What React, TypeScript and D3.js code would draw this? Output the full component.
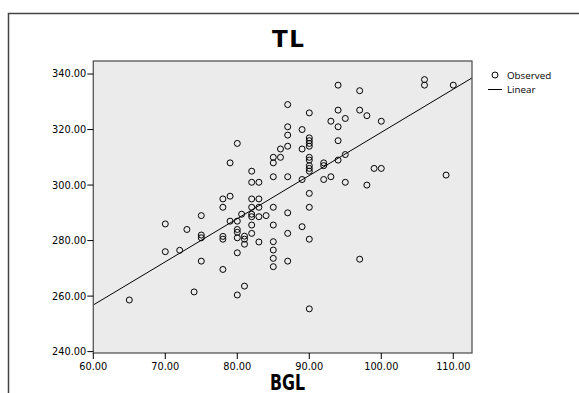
import React from 'react';
import * as d3 from 'd3';

const bgl = [
  94, 97, 106, 106, 110, 87, 90, 94, 97, 98, 93, 94, 95, 100, 87, 87, 89, 80,
  90, 90, 90, 90, 94, 87, 86, 89, 85, 86, 85, 90, 90, 90, 92, 92, 94, 95, 79,
  90, 90, 82, 85, 87, 89, 82, 83, 92, 93, 95, 98, 90, 78, 79, 78, 82, 83, 82,
  83, 85, 87, 90, 80.6, 82, 82, 83, 84, 79, 80, 75, 70, 73, 75, 75, 78, 78,
  70, 72, 75, 78, 74, 65, 80, 80, 80, 81, 81, 81, 82, 82, 83, 85, 85, 85, 85,
  85, 87, 87, 89, 90, 80, 81, 80, 90, 97, 99, 100, 109,
];
const tl = [
  336, 334, 338, 336, 336, 329, 326, 327, 327, 325, 323, 321, 324, 323, 321,
  318, 320, 315, 317, 316, 315, 314, 316, 314, 313, 313, 310, 310, 308, 310,
  309, 307, 308, 307, 309, 311, 308, 306, 305, 305, 303, 303, 302, 301, 301,
  302, 303, 301, 300, 297, 295, 296, 292, 295, 295, 292, 292, 292, 290, 292,
  289.5, 289.5, 288.6, 288.6, 289, 287, 287, 289, 286, 284, 282, 281, 281.5,
  280.5, 276, 276.5, 272.6, 269.6, 261.5, 258.6, 284, 283, 281, 281.6, 280.5,
  278.7, 285.6, 282.6, 279.5, 285.6, 279.6, 276.6, 273.6, 270.6, 282.6, 272.6,
  285, 280.5, 275.6, 263.6, 260.4, 255.4, 273.3, 306, 306, 303.6,
];

// linear fit TL = a + b * BGL
const fitIntercept = 163.5;
const fitSlope = 1.555;

const xTicks = [60, 70, 80, 90, 100, 110];
const yTicks = [240, 260, 280, 300, 320, 340];

const W = 579;
const H = 393;
const plot = { left: 93.3, right: 472, top: 61, bottom: 353 };

const tickFont = "'DejaVu Sans', sans-serif";
const legendFont = "'Open Sans', 'DejaVu Sans', sans-serif";

export default function App() {
  const x = d3.scaleLinear().domain([60, 112.6]).range([plot.left, plot.right]);
  const y = d3.scaleLinear().domain([239.5, 344.7]).range([plot.bottom, plot.top]);

  const points = bgl.map((b, i) => ({ b, t: tl[i] }));
  const [x0, x1] = x.domain();
  const fitLine = d3.line<number>()
    .x(d => x(d))
    .y(d => y(fitIntercept + fitSlope * d));

  return (
    <svg
      width={W}
      height={H}
      style={{ position: 'absolute', left: 0, top: 0, background: '#fff' }}
    >
      {/* outer frame */}
      <rect x={8.5} y={13.5} width={600} height={420} fill="#fff" stroke="#444" strokeWidth={1.5} />

      <text x={288} y={46.5} textAnchor="middle" fontFamily="'DejaVu Sans', sans-serif"
        fontWeight="bold" fontSize={23} textLength={32} lengthAdjust="spacing">TL</text>

      <defs>
        <clipPath id="plot-clip">
          <rect x={plot.left} y={plot.top} width={plot.right - plot.left} height={plot.bottom - plot.top} />
        </clipPath>
      </defs>

      <rect x={plot.left} y={plot.top} width={plot.right - plot.left} height={plot.bottom - plot.top}
        fill="#ebebeb" stroke="none" />

      {points.map((p, i) => (
        <circle key={i} cx={x(p.b)} cy={y(p.t)} r={3} fill="none" stroke="#000" strokeWidth={1} />
      ))}

      <path d={fitLine([x0, x1]) ?? ''} fill="none" stroke="#000" strokeWidth={1}
        clipPath="url(#plot-clip)" />

      <rect x={plot.left} y={plot.top} width={plot.right - plot.left} height={plot.bottom - plot.top}
        fill="none" stroke="#555" strokeWidth={1.3} />

      {/* x axis */}
      {xTicks.map(t => (
        <g key={t} transform={`translate(${x(t)},${plot.bottom})`}>
          <line y1={0} y2={6} stroke="#000" strokeWidth={1} />
          <text y={16.5} textAnchor="middle" fontFamily={tickFont} fontSize={9.8}>{t.toFixed(2)}</text>
        </g>
      ))}

      {/* y axis */}
      {yTicks.map(t => (
        <g key={t} transform={`translate(${plot.left},${y(t)})`}>
          <line x1={0} x2={-6} stroke="#000" strokeWidth={1} />
          <text x={-7} dy="0.35em" textAnchor="end" fontFamily={tickFont} fontSize={9.8}>{t.toFixed(2)}</text>
        </g>
      ))}

      <text x={287.5} y={390} textAnchor="middle" fontFamily="'Liberation Sans Narrow', 'DejaVu Sans Condensed', sans-serif"
        fontWeight="bold" fontSize={22} textLength={35} lengthAdjust="spacingAndGlyphs">BGL</text>

      {/* legend */}
      <circle cx={495} cy={75} r={3} fill="none" stroke="#000" strokeWidth={1} />
      <text x={507} y={78.5} fontFamily={legendFont} fontSize={9.8}>Observed</text>
      <line x1={488} x2={502} y1={89.5} y2={89.5} stroke="#000" strokeWidth={1} />
      <text x={507} y={93} fontFamily={legendFont} fontSize={9.8}>Linear</text>
    </svg>
  );
}
